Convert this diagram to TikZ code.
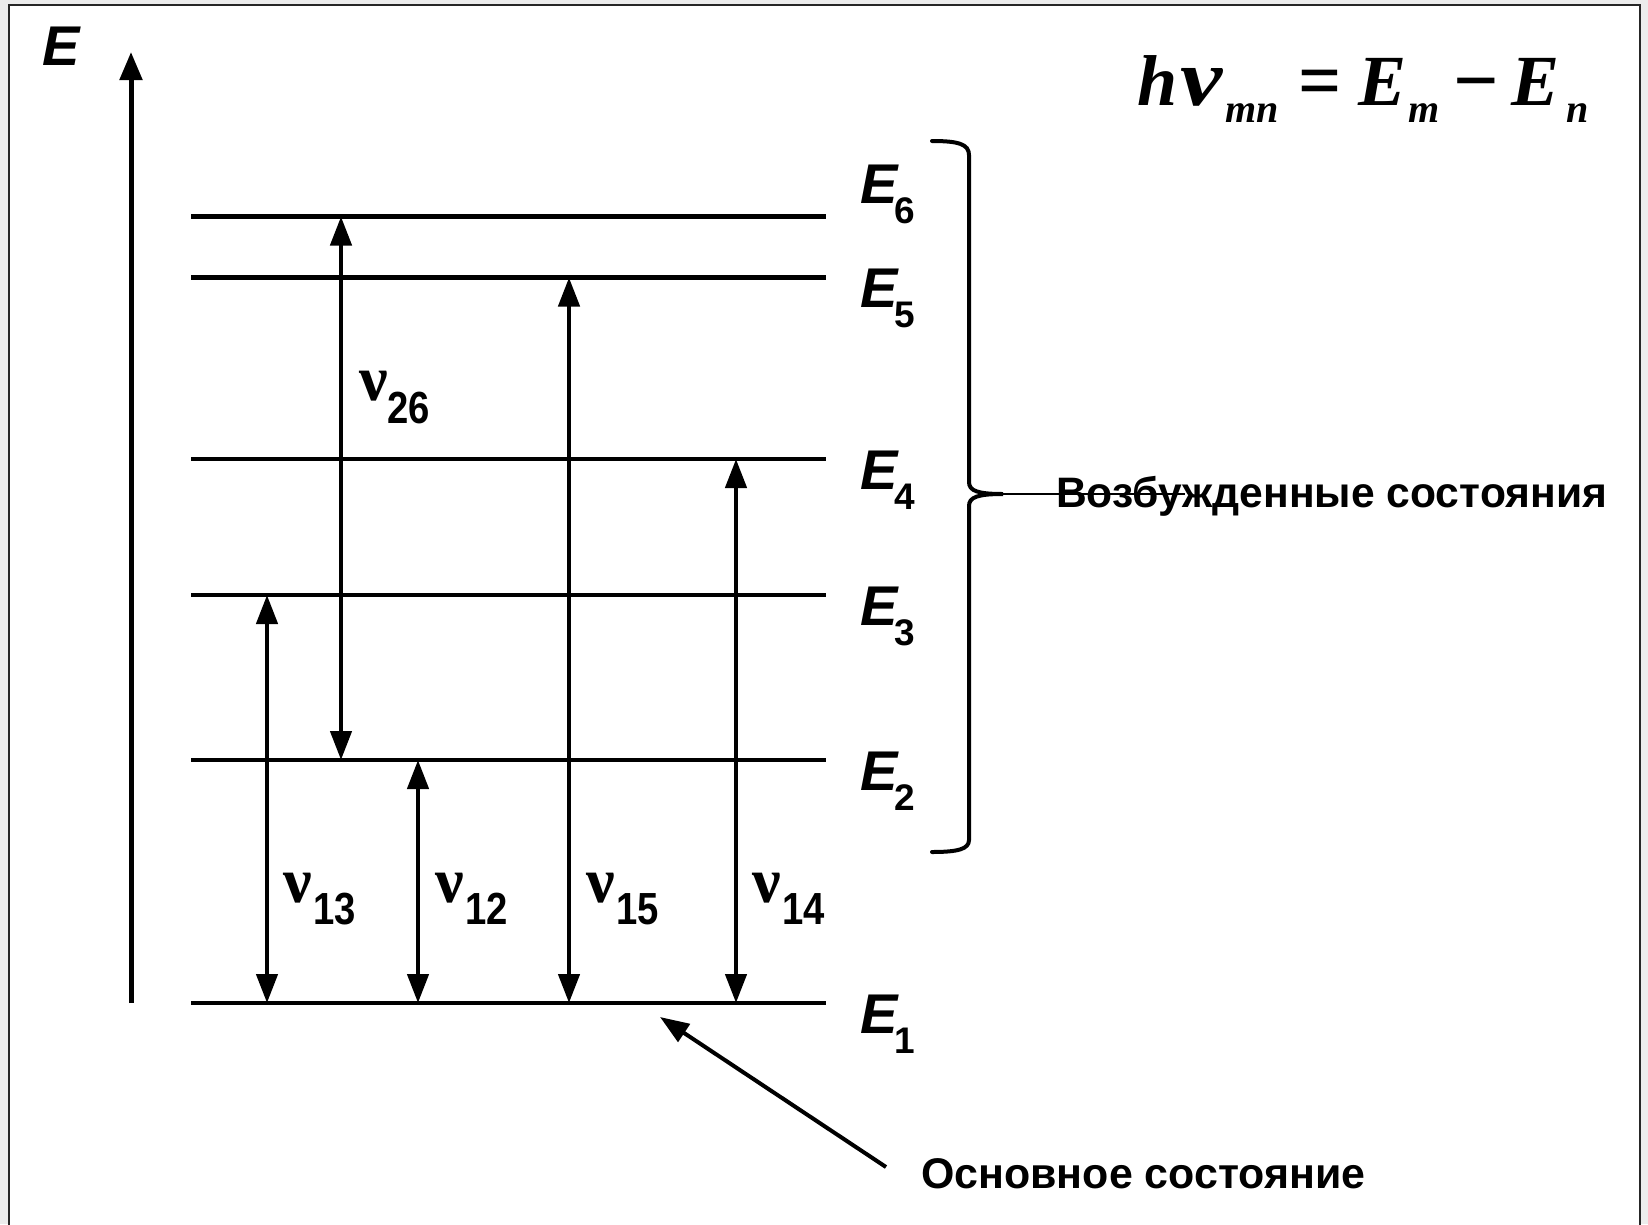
\documentclass[tikz,border=0pt]{standalone}
\usepackage{fontspec}
\setmainfont{Liberation Sans}
\newfontfamily\tms{Liberation Serif}
\usetikzlibrary{arrows.meta}
\begin{document}
\begin{tikzpicture}[x=1pt,y=-1pt,
  lvl/.style={line width=4.5pt},
  trans/.style={line width=4.5pt,{Triangle[length=29pt,width=21pt]}-{Triangle[length=29pt,width=21pt]}},
  elab/.style={inner sep=0pt,anchor=base west,font=\bfseries\itshape\fontsize{56}{62}\selectfont},
  esub/.style={inner sep=0pt,anchor=base west,font=\bfseries\fontsize{37}{42}\selectfont},
  nulab/.style={inner sep=0pt,anchor=base west,font=\tms\bfseries\fontsize{64}{72}\selectfont},
  nusub/.style={inner sep=0pt,anchor=base west,font=\bfseries\fontsize{45}{52}\selectfont},
  fm/.style={inner sep=0pt,anchor=base west,font=\tms\bfseries\itshape\fontsize{72}{80}\selectfont},
  fmup/.style={inner sep=0pt,anchor=base west,font=\tms\bfseries\fontsize{80}{88}\selectfont},
  fsub/.style={inner sep=0pt,anchor=base west,font=\tms\bfseries\itshape\fontsize{40}{48}\selectfont},
  ctext/.style={inner sep=0pt,anchor=base west,font=\bfseries\fontsize{42.6}{50}\selectfont},
  gtext/.style={inner sep=0pt,anchor=base west,font=\bfseries\fontsize{42.9}{50}\selectfont}
]
\useasboundingbox (0,0) rectangle (1648,1224);
\fill[gray!15] (0,0) rectangle (1648,1224);
\draw[fill=white,line width=2pt,draw=black!85] (9,5) rectangle (1640,1240);

% axis
\coordinate (axb) at (131,1003);
\coordinate (axt) at (131,52);
\draw[line width=5pt,-{Triangle[length=28pt,width=22pt]}] (axb) -- (axt);
\node[elab] (axE) at (42,65) {E};

% levels
\foreach \n/\y in {6/216.5,5/277.5,4/459,3/595,2/760,1/1003}{
  \coordinate (L\n w) at (191,\y);
  \coordinate (L\n e) at (826,\y);
  \draw[lvl] (L\n w) -- (L\n e);
}

% level labels
\node[elab] (E6) at (860,203) {E};  \node[esub] (s6) at (894,223) {6};
\node[elab] (E5) at (860,307) {E};  \node[esub] (s5) at (894,327) {5};
\node[elab] (E4) at (860,489) {E};  \node[esub] (s4) at (894,509) {4};
\node[elab] (E3) at (860,625) {E};  \node[esub] (s3) at (894,645) {3};
\node[elab] (E2) at (860,790) {E};  \node[esub] (s2) at (894,810) {2};
\node[elab] (E1) at (860,1033) {E}; \node[esub] (s1) at (894,1053) {1};

% transitions
\coordinate (t26a) at (341,216.5); \coordinate (t26b) at (341,760);
\coordinate (t15a) at (569,277.5); \coordinate (t15b) at (569,1003);
\coordinate (t14a) at (736,459);   \coordinate (t14b) at (736,1003);
\coordinate (t13a) at (267,595);   \coordinate (t13b) at (267,1003);
\coordinate (t12a) at (418,760);   \coordinate (t12b) at (418,1003);
\draw[trans] (t26a) -- (t26b);
\draw[trans] (t15a) -- (t15b);
\draw[trans] (t14a) -- (t14b);
\draw[trans] (t13a) -- (t13b);
\draw[trans] (t12a) -- (t12b);

\node[nulab] (n26) at (359,400) {ν}; \node[nusub] (n26s) at (387,423) {\scalebox{0.85}[1]{26}};
\node[nulab] (n13) at (283,902) {ν}; \node[nusub] (n13s) at (313,924) {\scalebox{0.85}[1]{13}};
\node[nulab] (n12) at (435,902) {ν}; \node[nusub] (n12s) at (465,924) {\scalebox{0.85}[1]{12}};
\node[nulab] (n15) at (586,902) {ν}; \node[nusub] (n15s) at (616,924) {\scalebox{0.85}[1]{15}};
\node[nulab] (n14) at (752,902) {ν}; \node[nusub] (n14s) at (782,924) {\scalebox{0.85}[1]{14}};

% brace
\coordinate (btip) at (1003,494);
\draw[line width=4pt,line cap=round]
  (932,141) .. controls (958,141) and (969,144) .. (969,155)
  -- (969,482) .. controls (969,491) and (978,494) .. (btip)
  .. controls (978,494) and (969,497) .. (969,506)
  -- (969,840) .. controls (969,849) and (958,852) .. (932,852);
\coordinate (bend) at (1185,494);
\draw[line width=2pt] (btip) -- (bend);
\node[ctext] (exc) at (1056,507) {Возбужденные состояния};

% ground state
\node[gtext] (gnd) at (921,1188) {Основное состояние};
\coordinate (gtail) at (886,1167);
\coordinate (gtip) at (660,1017);
\draw[line width=4pt,-{Triangle[length=29pt,width=21pt]}] (gtail) -- (gtip);

% formula
\node[fm] (fh) at (1137,105) {h};
\node[fm] (fnu) at (1180,105) {\scalebox{1.32}[1.12]{ν}};
\node[fsub] (fmn) at (1225,122) {mn};
\node[fmup] (feq) at (1298,107) {\scalebox{0.95}[1]{=}};
\node[fm] (fE1) at (1358,105) {E};
\node[fsub] (fm) at (1408,122) {m};
\node[fmup] (fmin) at (1453,107) {−};
\node[fm] (fE2) at (1511,105) {E};
\node[fsub] (fn) at (1566,122) {n};
\end{tikzpicture}
\end{document}
